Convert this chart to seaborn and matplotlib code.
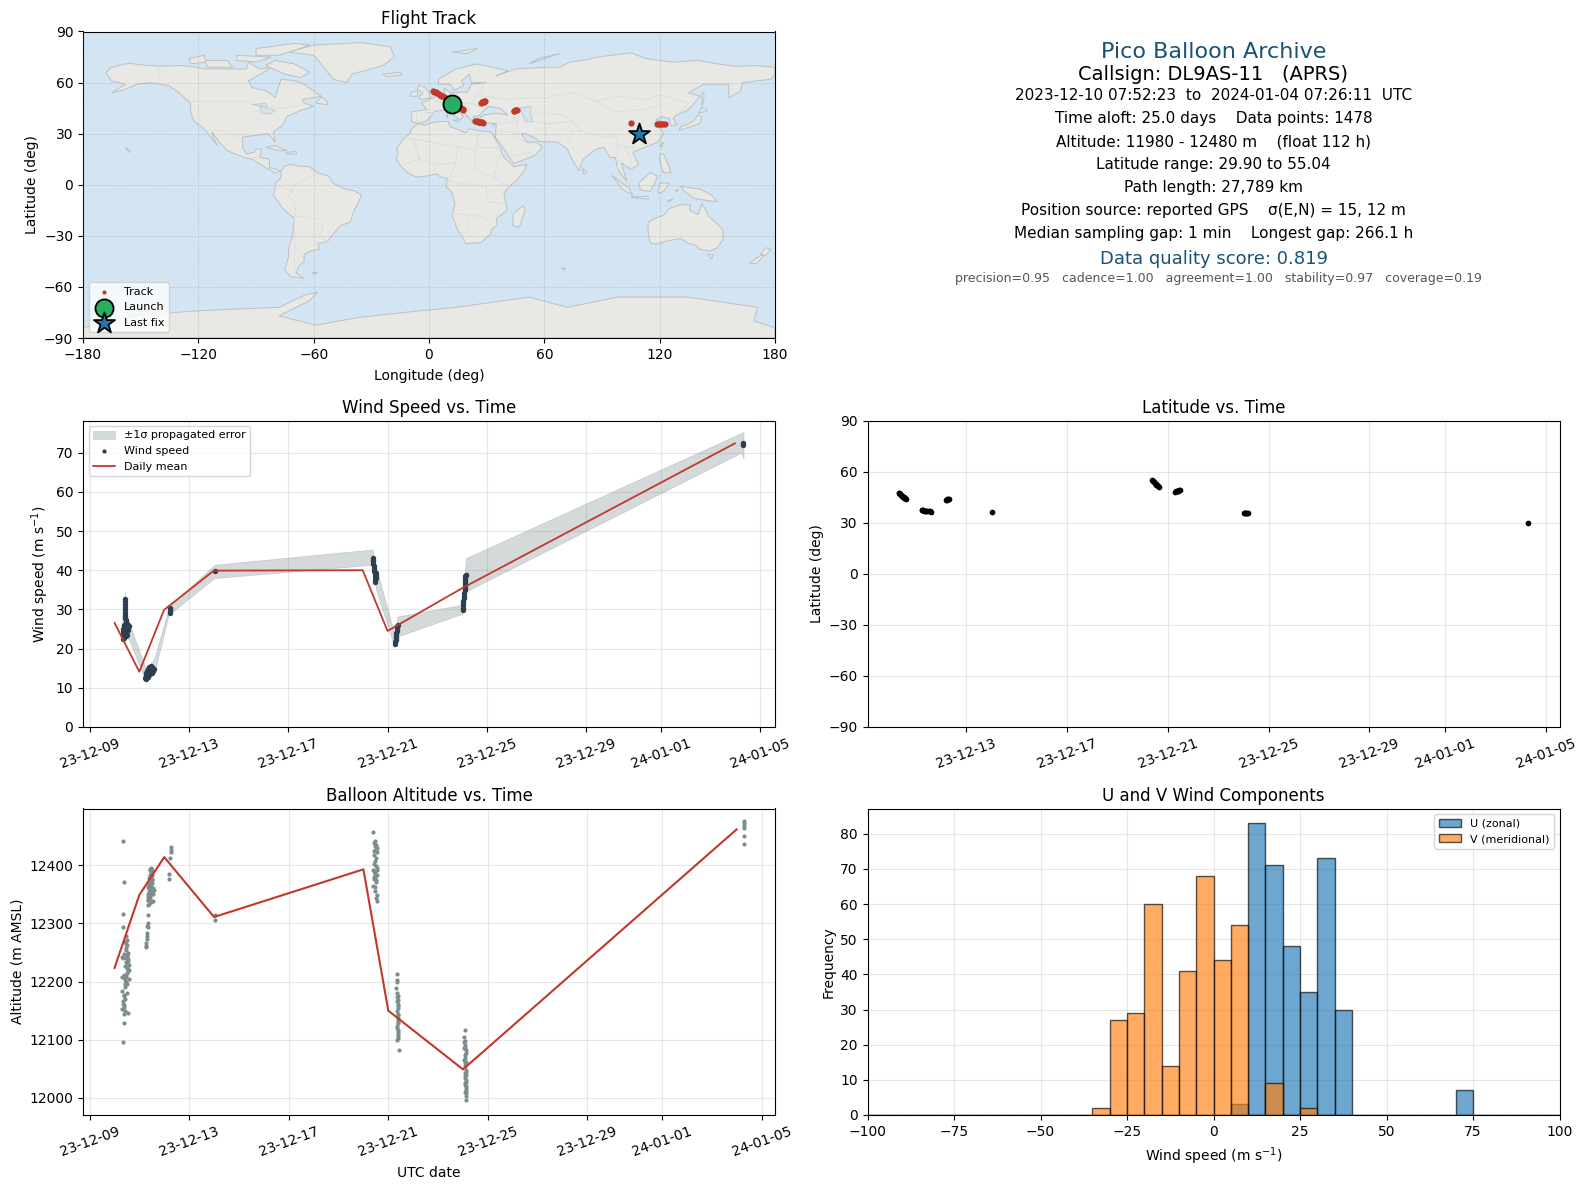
import numpy as np
import pandas as pd
import matplotlib
matplotlib.use("Agg")
import matplotlib.pyplot as plt
import matplotlib.dates as mdates
import matplotlib.ticker as mticker
from matplotlib.colors import to_rgba
import seaborn as sns

# ---- time series data (days counted from 1 December 2023) ----
alt_days = [10.36,10.40,10.36,10.36,10.46,10.49,10.45,10.52,10.46,10.56,10.38,10.32,10.45,10.56,10.36,10.52,10.59,10.49,10.57,10.52,
            10.32,10.41,10.59,10.48,10.42,10.52,10.32,10.52,10.38,10.41,10.36,10.38,10.32,10.42,10.53,10.40,10.40,10.36,
            10.44,10.47,10.50,10.54,10.43,10.39,10.48,10.55,10.46,10.51,10.42,10.37,10.50,10.34,10.44,10.40,
            11.33,11.33,11.30,11.34,11.30,11.29,11.30,11.26,11.26,11.26,
            11.46,11.43,11.50,11.46,11.52,11.42,11.50,11.46,11.52,11.39,11.47,11.55,11.37,11.43,11.59,11.50,11.36,11.42,11.55,11.33,11.39,11.33,11.55,11.37,11.33,
            11.44,11.48,11.41,11.45,11.38,11.49,11.40,11.47,11.35,11.44,11.51,11.38,11.42,11.48,11.36,11.41,11.46,
            12.27,12.27,12.27,12.23,12.21,12.21,
            14.03,14.03,
            20.40,20.47,20.42,20.47,20.53,20.45,20.55,20.42,20.50,20.44,20.53,20.40,20.47,20.55,20.42,20.50,20.40,20.47,20.45,20.53,20.50,20.53,
            20.43,20.49,20.46,20.51,20.44,20.48,20.41,20.52,20.46,20.54,
            21.36,21.34,21.34,21.31,21.33,21.34,21.38,21.40,21.38,21.36,21.38,21.40,21.38,21.36,21.38,21.40,21.38,21.36,21.42,
            21.37,21.39,21.35,21.37,21.39,21.36,21.38,21.40,21.37,
            24.09,24.06,24.08,24.05,24.10,24.05,24.12,24.07,24.09,24.11,24.07,24.13,24.09,24.10,24.12,24.09,24.11,24.13,24.11,24.14,
            24.08,24.12,24.10,24.06,24.11,24.13,24.09,24.12,24.08,24.14,24.10,24.12,
            35.27,35.27,35.27,35.27,35.27,35.27]
alt_values = [12441,12371,12316,12294,12278,12272,12265,12263,12257,12250,12248,12243,12240,12239,12240,12232,12229,12223,12220,12215,
              12208,12206,12204,12200,12196,12196,12184,12181,12177,12170,12162,12156,12153,12150,12146,12144,12129,12096,
              12268,12254,12246,12236,12226,12212,12210,12218,12234,12244,12190,12175,12224,12166,12203,12160,
              12314,12300,12296,12294,12284,12279,12273,12267,12262,12259,
              12396,12392,12391,12386,12383,12379,12376,12372,12369,12366,12363,12361,12359,12356,12358,12353,12351,12349,12351,12346,12343,12340,12338,12334,12332,
              12394,12388,12384,12380,12378,12374,12370,12368,12362,12360,12355,12354,12347,12350,12341,12344,12336,
              12431,12427,12423,12412,12385,12376,
              12315,12306,
              12457,12442,12438,12433,12430,12427,12423,12417,12412,12403,12395,12392,12387,12383,12379,12375,12365,12362,12355,12349,12343,12339,
              12425,12435,12408,12398,12390,12385,12377,12371,12380,12392,
              12213,12203,12199,12189,12181,12173,12169,12162,12154,12149,12143,12137,12130,12123,12117,12110,12106,12100,12082,
              12176,12158,12166,12145,12128,12120,12113,12103,12134,
              12117,12104,12098,12096,12087,12085,12082,12073,12068,12062,12054,12048,12043,12037,12031,12026,12020,12014,12008,11996,
              12091,12078,12060,12065,12045,12040,12034,12028,12022,12017,12011,12004,
              12476,12472,12468,12464,12450,12436]

wind_days = [10.42,10.42,10.41,10.42,10.41,10.42,10.43,10.43,10.44,10.45,10.46,10.47,10.48,10.50,10.46,10.52,10.55,10.38,10.33,10.42,10.36,10.50,10.56,
             10.44,10.48,10.52,10.38,10.35,10.54,10.46,10.42,10.50,10.40,10.34,10.58,10.33,10.37,
             11.24,11.26,11.28,11.30,11.33,11.36,11.38,11.41,11.44,11.47,11.50,11.53,11.56,11.59,11.28,11.32,11.36,11.40,11.44,11.48,11.52,11.34,11.42,
             12.22,12.22,12.22,12.22,
             14.03,
             20.40,20.41,20.42,20.43,20.44,20.46,20.47,20.49,20.51,20.53,20.55,20.52,20.50,20.49,20.50,
             21.31,21.32,21.33,21.33,21.34,21.35,21.36,21.37,21.38,21.39,21.40,21.41,
             24.02,24.03,24.04,24.05,24.05,24.07,24.09,24.09,24.10,24.10,24.10,24.11,24.12,24.13,24.13,24.14,24.15,24.15,
             35.30,35.30]
wind_values = [32.6,32.1,31.4,30.6,30.0,29.3,28.8,28.2,27.7,27.2,26.9,26.5,26.2,25.9,25.4,25.1,24.8,25.6,24.4,24.0,23.4,24.4,25.4,
               26.1,24.9,26.3,24.6,23.8,26.0,23.2,25.0,23.6,22.8,22.4,25.7,25.0,26.0,
               12.5,12.2,12.9,13.4,13.0,13.7,14.2,14.7,15.1,15.6,15.3,14.8,14.4,14.7,13.9,14.3,14.9,15.2,14.1,14.4,13.8,12.8,13.6,
               30.3,29.9,29.5,29.1,
               39.8,
               43.1,42.7,42.3,41.7,41.0,40.4,39.8,39.3,39.0,38.8,39.2,37.9,37.4,36.9,38.3,
               21.1,21.6,22.2,22.6,23.0,23.5,24.0,24.4,24.9,25.3,25.8,26.0,
               29.9,30.4,31.0,31.6,32.2,32.9,33.4,34.2,34.9,35.5,35.9,36.4,36.9,37.6,38.1,38.5,38.8,38.9,
               72.5,72.0]

band_days = [10.32,10.42,10.45,10.59,11.26,11.60,12.20,12.25,14.03,20.40,20.53,21.27,21.40,24.02,24.16,35.25,35.34]
band_upper = [28.0,34.3,30.0,26.5,15.0,17.3,30.8,31.0,41.4,45.3,41.0,23.9,28.2,31.2,43.1,75.0,75.3]
band_lower = [21.8,24.0,23.0,22.2,11.7,13.7,28.9,29.0,38.0,41.4,35.2,20.5,23.1,28.9,34.6,70.0,68.5]

mean_days = [10, 11, 12, 14, 20, 21, 24, 35]
mean_wind = [26.6, 14.1, 29.9, 39.9, 40.0, 24.5, 35.4, 72.4]
mean_alt = [12223, 12349, 12414, 12311, 12393, 12150, 12049, 12462]

lat_days = [10.32,10.34,10.36,10.38,10.40,10.43,10.45,10.48,10.51,10.54,10.57,10.59,
            11.22,11.25,11.29,11.33,11.37,11.41,11.45,11.50,11.54,11.58,
            12.18,12.21,12.24,12.27,12.31,
            14.03,
            20.37,20.39,20.42,20.45,20.48,20.51,20.54,20.57,20.60,20.64,
            21.30,21.33,21.36,21.39,21.42,21.45,21.49,
            24.02,24.05,24.08,24.11,24.14,24.18,
            35.30]
lat_values = [47.6,47.3,46.9,46.6,46.3,45.9,45.6,45.2,44.9,44.5,44.2,44.0,
              37.5,37.4,37.3,37.1,37.0,36.9,36.8,36.7,36.6,36.5,
              43.4,43.5,43.7,43.8,44.0,
              36.3,
              55.0,54.7,54.2,53.8,53.3,52.8,52.4,51.9,51.4,50.9,
              48.2,48.4,48.5,48.6,48.7,48.9,49.0,
              35.4,35.5,35.6,35.6,35.7,35.8,
              29.9]

# ---- flight track (degrees) ----
track_lon = [11.8,12.4,13.0,13.6,14.2,14.9,15.5,16.1,16.7,17.2,17.6,17.9,
             24.0,24.4,24.9,25.3,25.8,26.2,26.7,27.2,27.6,28.0,
             44.0,44.4,44.9,45.3,45.8,
             104.9,
             2.1,2.8,3.5,4.2,5.0,5.7,6.4,7.2,8.0,8.9,
             27.0,27.4,27.8,28.1,28.5,28.8,29.1,
             118.4,119.2,120.0,120.9,121.7,122.6,
             109.0]
track_lat = lat_values
launch_lon, launch_lat = [11.8], [47.2]
last_lon, last_lat = [109.0], [29.9]

# ---- map outlines (lon, lat) ----
north_america = [(-168,65.5),(-166,68.5),(-162,70),(-156,71.3),(-148,70.3),(-141,69.7),(-128,70),(-115,68),(-108,68),(-95,68),(-94,72),(-88,68),(-82,69),(-86,66),(-94,61),(-92,57),(-85,55.3),(-82,53),(-80,51),(-79,55),(-77,62),(-70,61),(-65,59),(-60,55),(-56,52),(-66,50),(-65,48),(-60,46),(-66,44),(-70,42),(-74,40),(-76,35),(-81,31),(-80,25),(-82,28),(-84,30),(-90,29),(-97,28),(-97,22),(-95,18),(-91,19),(-90,21),(-87,21),(-88,16),(-83,15),(-83,10),(-79,9),(-77,8),(-80,7),(-85,10),(-92,15),(-96,16),(-105,20),(-109,25),(-113,31),(-112,27),(-110,23),(-115,30),(-118,34),(-122,37),(-124,42),(-124,48),(-130,54),(-135,58),(-145,60),(-152,59),(-158,56),(-165,54),(-158,59),(-165,61),(-168,65.5)]
greenland = [(-73,78),(-60,82),(-35,83.5),(-20,81),(-18,75),(-24,70),(-40,65),(-43,60),(-50,62),(-54,68),(-60,76)]
south_america = [(-77,8),(-75,11),(-72,12),(-68,11),(-62,10.5),(-58,7),(-52,5),(-50,1),(-44,-2.5),(-39,-3.5),(-35,-6),(-37,-11),(-39,-15),(-41,-22),(-46,-24),(-48.5,-27),(-53,-33.5),(-58,-34.5),(-57,-38),(-62,-39),(-65,-41),(-65,-45),(-68,-48),(-69,-52),(-65,-55),(-72,-54),(-75,-50),(-73,-42),(-73,-37),(-71,-30),(-70,-20),(-76,-14),(-81,-6),(-80,-2),(-80,1),(-77,4)]
africa = [(-6,35.8),(-2,35),(3,36.8),(10,37.3),(11,34),(15,32.5),(19,30.5),(21,33),(25,31.8),(32,31.2),(34,28),(36,24),(37.5,20),(39,16),(43,12),(44,10.5),(51,12),(49,7),(45,2),(41,-2),(39,-5),(40,-11),(40.5,-15),(35,-20),(35.5,-24),(32.7,-26),(32,-29),(27,-34),(19,-34.5),(17,-30),(15,-27),(12,-18),(13.5,-11),(12,-5),(9,-1),(9.5,4),(6,4.5),(4,6.3),(-2,5),(-7,4.5),(-11,7),(-13.5,9.5),(-17,14.7),(-16,19),(-17,21),(-13,27.5),(-10,30),(-9,33)]
eurasia = [(-9,37),(-9,43),(-1,44),(-4,48),(2,51),(8,54),(8,57),(11,54),(20,54.5),(22,59),(30,60),(22,60),(21,65),(17,61),(18,58),(13,55.5),(11,59),(5,59),(5,62),(14,68),(25,71),(41,67),(35,64),(45,68),(60,69),(68,69),(73,72),(80,73),(88,75),(105,77.5),(113,74),(127,72),(140,73),(150,71),(160,69.5),(170,70),(180,69),(180,65),(178,62),(163,60),(162,55),(156,51),(156,59),(143,59),(135,54),(141,52),(135,44),(129,41),(127,39),(129,35.5),(126,34.5),(125,39),(121,40),(118,38),(122,37),(120,34),(122,30),(119,25),(110,21),(106,19),(109,12),(105,9),(100,13),(103,2),(100,6),(98,10),(97,16),(94,16),(91,22),(87,21),(80,15),(78,8),(73,18),(72,21),(67,25),(57,25.5),(56,27),(50,30),(48,30),(51,25),(56,25),(59,22),(55,17),(44,12.5),(39,21),(34.5,28),(35,36),(28,36.5),(26,39),(29,41),(35,42),(41,41),(37,45),(31,46),(28,43),(26,40.5),(23,40),(23,36.5),(19,41.5),(13,45.5),(18,40),(16,38),(12,42),(8,44),(3,43),(0,39),(-2,37),(-6,36)]
australia = [(114,-22),(117,-20),(122,-18),(125,-14),(130,-12),(132,-11.5),(136,-12),(135.5,-15),(140,-17.5),(142,-11),(144,-15),(146,-19),(150,-23),(153,-27),(153,-32),(150,-37),(146,-39),(141,-38),(138,-35),(135,-34.5),(131,-31.5),(124,-33),(118,-35),(115,-34),(114,-28)]
antarctica = [(-180,-90),(-180,-84),(-155,-77),(-120,-74),(-100,-73),(-78,-72),(-65,-65),(-58,-63),(-62,-68),(-78,-77),(-59,-82.5),(-37,-78),(-13,-75),(14,-72),(52,-66),(72,-72),(98,-66),(135,-66),(171,-72),(169,-80),(180,-84),(180,-90)]
islands = [
    [(-80,73),(-70,71),(-62,66),(-67,63),(-75,65),(-85,70)],
    [(-117,73),(-105,73),(-102,69),(-115,69)],
    [(-90,80),(-70,83),(-62,82),(-78,76),(-90,76)],
    [(-125,74),(-117,76),(-116,72),(-124,71)],
    [(-100,76),(-82,75),(-90,72),(-100,73)],
    [(-59,48),(-53,47),(-53,49),(-56,51.5)],
    [(-85,22),(-80,23),(-74,20),(-78,20)],
    [(-74,19),(-69,19.5),(-69,18),(-74,18)],
    [(-24,65),(-15,66),(-14,64.5),(-22,63.5)],
    [(-5,50),(1,51),(0,54),(-2,57),(-5,58.5),(-6,56),(-3,54),(-5,52)],
    [(-10,52),(-6,52),(-6,55),(-9,54.5)],
    [(43.5,-24),(47,-25),(50,-15),(49,-12),(44,-17)],
    [(172.5,-41),(175,-37),(178,-38),(175,-41.5)],
    [(167,-46),(173,-41),(174,-42),(170,-46.5)],
    [(145,-41),(148,-41),(147,-43.5)],
    [(130,32),(136,34),(141,36),(142,40),(140,41),(137,37),(131,34)],
    [(140,42),(145,43.5),(142,45.5)],
    [(142,46),(143,50),(143,54),(142,54)],
    [(109,1),(115,7),(119,5),(117,0),(115,-4),(110,-3)],
    [(95,5.5),(104,-2),(106,-6),(101,-3)],
    [(105,-7),(114,-7),(114,-8.5),(106,-7.5)],
    [(119,-5),(120,1),(125,1),(122,-4)],
    [(131,-1),(141,-2.5),(147,-6),(150,-10),(143,-9),(138,-8),(133,-4)],
    [(120,18),(122,18),(124,13),(126,7),(122,7),(120,14)],
    [(120,23),(122,25),(121,22)],
    [(80,9.5),(82,7.5),(80.5,6)],
    [(12,78),(25,80),(20,77)],
    [(52,71),(68,77),(58,74.5)],
    [(-158,22),(-155,20),(-156,19)],
    [(-61,-51.5),(-58,-51.5),(-59,-52.5)],
    [(69,-49),(71,-49),(70,-50)],
    [(9,41),(10,43),(9.5,39)],
    [(12.5,38),(15.5,38),(15,36.7)],
    [(33,35),(34.5,35.5),(33,34.6)],
    [(128,-3),(130,-3),(129,-4)],
    [(125,-9),(127,-8.5),(124,-10)],
]
inland_water = [
    [(47,45),(53,46),(53,40),(54,37),(50,37),(49,41)],
    [(-92,47),(-85,48),(-84,46),(-88,46.5)],
    [(-88,46),(-84,45),(-80,44),(-82,42),(-87,42)],
]
borders = [
    [(-123,49),(-95,49),(-83,46),(-75,45),(-67,47)],
    [(-141,70),(-141,60)],
    [(-117,32.5),(-106,31.5),(-97,26)],
    [(-92,15),(-89,18)],
    [(-70,-18),(-58,-20),(-55,-25),(-57,-30),(-53,-33)],
    [(-70,-18),(-70,-52)],
    [(-70,-18),(-69,-11),(-73,-7),(-70,0),(-67,2),(-60,5),(-60,8)],
    [(-80,0),(-75,-2),(-70,-4)],
    [(-13,27.5),(-8,27),(12,23),(25,20),(25,32)],
    [(25,22),(37,22)],
    [(-8,27),(-5,15),(3,12),(14,13),(15,23)],
    [(24,20),(24,9),(34,4),(42,-1)],
    [(-13,12),(-5,15)],
    [(10,2),(30,-1),(30,-10),(40,-11)],
    [(12,-17),(24,-18),(33,-22)],
    [(20,-18),(20,-28),(16,-28)],
    [(34,4),(36,15),(38,18)],
    [(3,12),(3,6)],
    [(14,13),(10,2)],
    [(2,51),(7,47),(13,47),(22,48),(24,52),(30,52),(40,50),(50,51)],
    [(-2,43),(3,43)],
    [(-7,37),(-7,42)],
    [(7,47),(8,54)],
    [(14,47),(14,54)],
    [(24,52),(28,56),(28,60)],
    [(22,48),(28,45),(28,43)],
    [(50,51),(60,51),(75,54),(87,49),(98,52),(113,50),(120,53),(135,48),(131,43)],
    [(87,49),(97,43),(111,44),(120,47)],
    [(75,37),(79,32),(89,28),(97,28),(98,24),(102,22),(108,22)],
    [(61,36),(53,38)],
    [(61,25),(61,36),(75,37)],
    [(72,25),(75,32),(79,32)],
    [(35,32),(48,30)],
    [(36,36),(45,37),(44,40)],
    [(46,30),(46,39)],
    [(50,38),(56,42),(70,41),(75,37)],
    [(44,29),(50,25)],
    [(43,17),(52,19),(55,17)],
    [(98,24),(98,10)],
    [(102,22),(105,15),(105,9)],
]

# ---- histogram ----
bin_edges = [-100,-95,-90,-85,-80,-75,-70,-65,-60,-55,-50,-45,-40,-35,-30,-25,-20,-15,-10,-5,0,5,10,15,20,25,30,35,40,45,50,55,60,65,70,75,80,85,90,95,100]
u_bins = [7.5, 12.5, 17.5, 22.5, 27.5, 32.5, 37.5, 72.5]
u_counts = [3, 83, 71, 48, 35, 73, 30, 7]
v_bins = [-32.5, -27.5, -22.5, -17.5, -12.5, -7.5, -2.5, 2.5, 7.5, 17.5, 27.5]
v_counts = [2, 27, 29, 60, 14, 41, 68, 44, 54, 9, 2]

# ---- text ----
info_lines = ["Pico Balloon Archive", "Callsign: DL9AS-11   (APRS)",
              "2023-12-10 07:52:23  to  2024-01-04 07:26:11  UTC",
              "Time aloft: 25.0 days    Data points: 1478",
              "Altitude: 11980 - 12480 m    (float 112 h)",
              "Latitude range: 29.90 to 55.04",
              "Path length: 27,789 km",
              "Position source: reported GPS    σ(E,N) = 15, 12 m",
              "Median sampling gap: 1 min    Longest gap: 266.1 h",
              "Data quality score: 0.819",
              "precision=0.95   cadence=1.00   agreement=1.00   stability=0.97   coverage=0.19"]

RED = "#c0392b"
NAVY = "#2c3e50"
GREY = "#7f8c8d"
BLUE_T = "#1a5276"
W, H = 1587, 1189


def to_dates(days):
    return pd.Timestamp("2023-12-01") + pd.to_timedelta(np.asarray(days, float) - 1, unit="D")


def panel(fig, x0, x1, y0, y1):
    return fig.add_axes([x0 / W, 1 - y1 / H, (x1 - x0) / W, (y1 - y0) / H])


sns.set_style("ticks")
plt.rcParams.update({"axes.edgecolor": "black", "xtick.color": "black", "ytick.color": "black",
                     "text.color": "black", "axes.labelcolor": "black", "font.family": ["DejaVu Sans"],
                     "font.size": 10, "axes.titlesize": 12, "axes.labelsize": 10,
                     "xtick.labelsize": 10, "ytick.labelsize": 10, "xtick.major.size": 3.5,
                     "ytick.major.size": 3.5, "xtick.major.width": 0.8, "ytick.major.width": 0.8,
                     "axes.linewidth": 0.8, "legend.fontsize": 8, "axes.titlepad": 5.6,
                     "axes.labelpad": 3.6})

fig = plt.figure(figsize=(W / 100, H / 100), dpi=100)
LX0, LX1, RX0, RX1 = 83, 775, 867.5, 1559.5
ax_map = panel(fig, LX0, LX1, 31.5, 338)
ax_info = panel(fig, RX0, RX1, 31.5, 338)
ax_wind = panel(fig, LX0, LX1, 420.5, 727)
ax_lat = panel(fig, RX0, RX1, 420.5, 727)
ax_alt = panel(fig, LX0, LX1, 808.5, 1115)
ax_hist = panel(fig, RX0, RX1, 808.5, 1115)

# --- map ---
ax_map.set_facecolor("#d3e5f2")
land_shapes = [north_america, greenland, south_america, africa, eurasia, australia, antarctica] + islands
for shape in land_shapes:
    lons, lats = zip(*shape)
    ax_map.fill(lons, lats, facecolor="#e8e8e4", edgecolor="#bcc0c2", linewidth=0.7, zorder=1)
for shape in inland_water:
    lons, lats = zip(*shape)
    ax_map.fill(lons, lats, facecolor="#d3e5f2", edgecolor="#bcc0c2", linewidth=0.5, zorder=1.1)
for line in borders:
    lons, lats = zip(*line)
    ax_map.plot(lons, lats, color="#dcdcdc", linewidth=0.6, zorder=1.2)
ax_map.grid(True, linestyle="--", linewidth=0.5, color="#808080", alpha=0.3, zorder=1.5)
ax_map.set_axisbelow(False)
sns.scatterplot(x=track_lon, y=track_lat, s=20, color=RED, linewidth=0, label="Track", ax=ax_map, zorder=3)
sns.scatterplot(x=launch_lon, y=launch_lat, s=170, color="#27ae60", edgecolor="black", linewidth=1.3,
                marker="o", label="Launch", ax=ax_map, zorder=4)
sns.scatterplot(x=last_lon, y=last_lat, s=250, color="#1f77b4", edgecolor="black", linewidth=1.3,
                marker="*", label="Last fix", ax=ax_map, zorder=5)
ax_map.set_xlim(-180, 180)
ax_map.set_ylim(-90, 90)
ax_map.set_xticks(range(-180, 181, 60))
ax_map.set_yticks(range(-90, 91, 30))
ax_map.set_xticklabels(["\u2212180", "\u2212120", "\u221260", "0", "60", "120", "180"])
ax_map.set_yticklabels(["\u221290", "\u221260", "\u221230", "0", "30", "60", "90"])
ax_map.set_xlabel("Longitude (deg)", labelpad=5)
ax_map.set_ylabel("Latitude (deg)")
ax_map.set_title("Flight Track")
map_leg = ax_map.legend(loc="lower left", fontsize=8, borderpad=0.4, labelspacing=0.5)
map_leg.legend_handles[0].set_sizes([9])

# --- info panel ---
ax_info.axis("off")
info_y = [0.932, 0.859, 0.790, 0.716, 0.640, 0.565, 0.492, 0.416, 0.340, 0.259, 0.193]
info_size = [16, 14, 11, 11, 11, 11, 11, 11, 11, 13, 9]
info_color = [BLUE_T, "black", "black", "black", "black", "black", "black", "black", "black", BLUE_T, "#555555"]
for i, line in enumerate(info_lines):
    xpos = 0.5068 if i == len(info_lines) - 1 else 0.5
    ax_info.text(xpos, info_y[i], line, transform=ax_info.transAxes, ha="center", va="center",
                 fontsize=info_size[i], color=info_color[i])

# --- date axes helper ---
def date_axis(ax):
    ax.xaxis.set_major_locator(mdates.DayLocator(bymonthday=[1, 5, 9, 13, 17, 21, 25, 29]))
    ax.xaxis.set_major_formatter(mdates.DateFormatter("%y-%m-%d"))
    ax.tick_params(axis="x", labelrotation=20)
    ax.grid(True, color="#b0b0b0", linewidth=0.8, alpha=0.3)
    ax.set_axisbelow(True)


# --- wind speed ---
ax_wind.fill_between(to_dates(band_days), band_lower, band_upper, color=GREY, alpha=0.33, linewidth=0.5,
                     label="\u00b11\u03c3 propagated error")
sns.scatterplot(x=to_dates(wind_days), y=wind_values, s=15, color=NAVY, linewidth=0, label="Wind speed", ax=ax_wind, zorder=3)
sns.lineplot(x=to_dates(mean_days), y=mean_wind, color=RED, linewidth=1.3, label="Daily mean",
             estimator=None, errorbar=None, ax=ax_wind, zorder=4)
date_axis(ax_wind)
ax_wind.set_ylim(0, 78.2)
ax_wind.set_yticks(range(0, 71, 10))
ax_wind.set_ylabel("Wind speed (m s$^{-1}$)")
ax_wind.set_xlabel("")
ax_wind.set_title("Wind Speed vs. Time")
leg = ax_wind.legend(loc="upper left", fontsize=8)
for handle in leg.legend_handles[1:2]:
    handle.set_sizes([9])

# --- latitude ---
sns.scatterplot(x=to_dates(lat_days), y=lat_values, s=17, color="black", linewidth=0, ax=ax_lat, zorder=3)
date_axis(ax_lat)
ax_lat.set_ylim(-90, 90)
ax_lat.set_yticks(range(-90, 91, 30))
ax_lat.set_yticklabels(["\u221290", "\u221260", "\u221230", "0", "30", "60", "90"])
ax_lat.set_ylabel("Latitude (deg)")
ax_lat.set_xlabel("")
ax_lat.set_title("Latitude vs. Time")

# --- altitude ---
sns.scatterplot(x=to_dates(alt_days), y=alt_values, s=9, color=GREY, linewidth=0, ax=ax_alt, zorder=3)
sns.lineplot(x=to_dates(mean_days), y=mean_alt, color=RED, linewidth=1.5, estimator=None, errorbar=None, ax=ax_alt, zorder=4)
date_axis(ax_alt)
ax_alt.set_ylim(11970.6, 12497.6)
ax_alt.set_yticks(range(12000, 12401, 100))
ax_alt.yaxis.set_major_formatter(mticker.FuncFormatter(lambda v, _: f"{int(v)}"))
ax_alt.set_xlabel("UTC date", labelpad=4.8)
ax_alt.set_ylabel("Altitude (m AMSL)")
ax_alt.set_title("Balloon Altitude vs. Time")

# --- histogram ---
sns.histplot(x=u_bins, weights=u_counts, bins=bin_edges, color="#1f77b4", alpha=0.65,
             edgecolor="black", linewidth=1.0, label="U (zonal)", ax=ax_hist)
n_u = len(ax_hist.patches)
sns.histplot(x=v_bins, weights=v_counts, bins=bin_edges, color="#ff7f0e", alpha=0.65,
             edgecolor="black", linewidth=1.0, label="V (meridional)", ax=ax_hist)
for idx, patch in enumerate(ax_hist.patches):
    base = "#1f77b4" if idx < n_u else "#ff7f0e"
    patch.set_alpha(None)
    patch.set_facecolor(to_rgba(base, 0.65))
    patch.set_edgecolor(to_rgba("black", 0.65))
ax_hist.set_xlim(-100, 100)
ax_hist.set_ylim(0, 87.2)
ax_hist.set_xticks(range(-100, 101, 25))
ax_hist.set_xticklabels(["\u2212100", "\u221275", "\u221250", "\u221225", "0", "25", "50", "75", "100"])
ax_hist.set_yticks(range(0, 81, 10))
ax_hist.set_xlabel("Wind speed (m s$^{-1}$)", labelpad=4.7)
ax_hist.set_ylabel("Frequency")
ax_hist.set_title("U and V Wind Components")
ax_hist.grid(True, color="#b0b0b0", linewidth=0.8, alpha=0.3)
ax_hist.set_axisbelow(True)
hleg = ax_hist.legend(loc="upper right", fontsize=8)
for handle, base in zip(hleg.legend_handles, ["#1f77b4", "#ff7f0e"]):
    handle.set_alpha(None)
    handle.set_facecolor(to_rgba(base, 0.65))
    handle.set_edgecolor(to_rgba("black", 0.65))

fig.savefig("out.png", dpi=100)
